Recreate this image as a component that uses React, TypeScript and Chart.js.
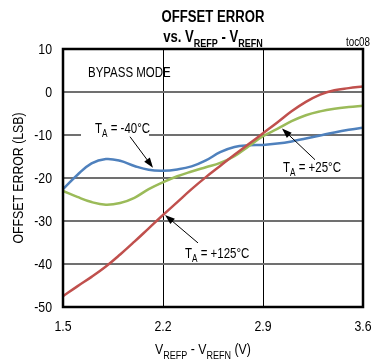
import React, { useEffect, useRef } from "react";
import { Chart, registerables } from "chart.js";

Chart.register(...registerables);

// Input span VREFP - VREFN (V)
const voltages = [1.5, 1.6, 1.7, 1.8, 1.9, 2.0, 2.1, 2.2, 2.3, 2.4, 2.5, 2.6, 2.7, 2.8, 2.9, 3.0, 3.1, 3.2, 3.3, 3.4, 3.5, 3.6];

// Offset error (LSB) at each temperature
const errMinus40 = [-22.6, -19.3, -16.6, -15.6, -16.0, -17.2, -18.1, -18.3, -18.0, -17.3, -15.9, -14.0, -12.8, -12.4, -12.3, -12.0, -11.5, -10.8, -10.1, -9.4, -8.8, -8.3];
const err25 = [-23.0, -24.4, -25.6, -26.2, -25.8, -24.6, -22.6, -21.0, -19.6, -18.5, -17.5, -16.5, -14.9, -12.6, -10.3, -8.6, -6.8, -5.4, -4.5, -3.9, -3.5, -3.2];
const err125 = [-47.5, -45.2, -43.0, -40.6, -37.8, -34.8, -31.7, -28.6, -25.6, -22.6, -19.8, -17.2, -14.6, -12.1, -9.6, -7.1, -4.5, -2.3, -0.6, 0.4, 0.9, 1.3];

const xTicks = [1.5, 2.2, 2.9, 3.6];
const yTicks = [-50, -40, -30, -20, -10, 0, 10];

const FONT = '"Liberation Sans", Arial, sans-serif';
// horizontal squeeze giving a condensed sans look
const SQUEEZE = 0.82;

type Piece = { text: string; sub?: boolean };

function fontOf(weight: string, size: number) {
  return `${weight} ${size}px ${FONT}`;
}

// Draws condensed text; align refers to the squeezed width.
function drawText(ctx: CanvasRenderingContext2D, text: string, x: number, y: number, font: string, align: "left" | "center" | "right", baseline: CanvasTextBaseline = "alphabetic") {
  ctx.font = font;
  const w = ctx.measureText(text).width * SQUEEZE;
  const sx = align === "left" ? x : align === "center" ? x - w / 2 : x - w;
  ctx.save();
  ctx.translate(sx, y);
  ctx.scale(SQUEEZE, 1);
  ctx.textAlign = "left";
  ctx.textBaseline = baseline;
  ctx.fillText(text, 0, 0);
  ctx.restore();
  return w;
}

// Draws a run of text where some pieces are subscripts.
function drawRich(ctx: CanvasRenderingContext2D, pieces: Piece[], x: number, y: number, size: number, subSize: number, weight: string, align: "left" | "center") {
  const widths = pieces.map((p) => {
    ctx.font = fontOf(weight, p.sub ? subSize : size);
    return ctx.measureText(p.text).width * SQUEEZE;
  });
  const total = widths.reduce((a, b) => a + b, 0);
  let cx = align === "center" ? x - total / 2 : x;
  pieces.forEach((p, i) => {
    drawText(ctx, p.text, cx, p.sub ? y + size * 0.3 : y, fontOf(weight, p.sub ? subSize : size), "left");
    cx += widths[i];
  });
  return total;
}

function drawArrow(ctx: CanvasRenderingContext2D, x1: number, y1: number, x2: number, y2: number) {
  const ang = Math.atan2(y2 - y1, x2 - x1);
  const len = 10;
  const half = 3.5;
  ctx.strokeStyle = "#000";
  ctx.lineWidth = 1;
  ctx.beginPath();
  ctx.moveTo(x1, y1);
  ctx.lineTo(x2 - Math.cos(ang) * len * 0.8, y2 - Math.sin(ang) * len * 0.8);
  ctx.stroke();
  ctx.fillStyle = "#000";
  ctx.beginPath();
  ctx.moveTo(x2, y2);
  ctx.lineTo(x2 - Math.cos(ang) * len - Math.sin(ang) * half, y2 - Math.sin(ang) * len + Math.cos(ang) * half);
  ctx.lineTo(x2 - Math.cos(ang) * len + Math.sin(ang) * half, y2 - Math.sin(ang) * len - Math.cos(ang) * half);
  ctx.closePath();
  ctx.fill();
}

// Curve callouts, in data coordinates
const callouts = [
  { label: "-40°C", tx: 1.724, ty: -9.45, ax: 1.969, ay: -10.4, hx: 2.13, hy: -17.6, clear: true },
  { label: "+25°C", tx: 3.04, ty: -18.5, ax: 3.264, ay: -15.75, hx: 3.033, hy: -8.5, clear: false },
  { label: "+125°C", tx: 2.354, ty: -38.6, ax: 2.445, ay: -35.1, hx: 2.214, hy: -28.6, clear: false },
];

const decorPlugin = {
  id: "decor",
  afterDraw(chart: any) {
    const ctx: CanvasRenderingContext2D = chart.ctx;
    const { left, right, top, bottom } = chart.chartArea;
    const xs = chart.scales.x;
    const ys = chart.scales.y;
    ctx.save();

    // callouts
    callouts.forEach((c) => {
      const tx = xs.getPixelForValue(c.tx);
      const ty = ys.getPixelForValue(c.ty);
      if (c.clear) {
        ctx.fillStyle = "#fff";
        ctx.fillRect(tx - 14, ty - 12, 68, 19);
      }
      ctx.fillStyle = "#000";
      drawRich(ctx, [{ text: "T" }, { text: "A", sub: true }, { text: " = " + c.label }], tx, ty, 14, 10, "normal", "left");
      drawArrow(ctx, xs.getPixelForValue(c.ax), ys.getPixelForValue(c.ay), xs.getPixelForValue(c.hx), ys.getPixelForValue(c.hy));
    });

    ctx.fillStyle = "#000";
    drawText(ctx, "BYPASS MODE", xs.getPixelForValue(1.675), ys.getPixelForValue(3.4), fontOf("normal", 14), "left");

    // plot frame
    ctx.strokeStyle = "#000";
    ctx.lineWidth = 2.5;
    ctx.strokeRect(left, top, right - left, bottom - top);

    // tick labels
    const tickFont = fontOf("normal", 15);
    xTicks.forEach((v) => drawText(ctx, v.toFixed(1), xs.getPixelForValue(v), bottom + 24, tickFont, "center"));
    yTicks.forEach((v) => drawText(ctx, String(v), left - 11, ys.getPixelForValue(v) + 5, tickFont, "right"));

    // titles
    const cx = (left + right) / 2;
    drawText(ctx, "OFFSET ERROR", cx, 22, fontOf("bold", 16), "center");
    drawRich(ctx, [{ text: "vs. V" }, { text: "REFP", sub: true }, { text: " - V" }, { text: "REFN", sub: true }], cx, 42, 16, 11, "bold", "center");

    drawText(ctx, "toc08", 370, 46, fontOf("normal", 12), "right");

    // axis titles
    drawRich(ctx, [{ text: "V" }, { text: "REFP", sub: true }, { text: " - V" }, { text: "REFN", sub: true }, { text: " (V)" }], 203, 354, 15, 11, "normal", "center");

    ctx.save();
    ctx.translate(23, (top + bottom) / 2);
    ctx.rotate(-Math.PI / 2);
    drawText(ctx, "OFFSET ERROR (LSB)", 0, 0, fontOf("normal", 15), "center");
    ctx.restore();

    ctx.restore();
  },
};

export default function App() {
  const ref = useRef<HTMLCanvasElement>(null);

  useEffect(() => {
    document.body.style.margin = "0";
    if (!ref.current) return;
    const chart = new Chart(ref.current, {
      type: "line",
      data: {
        labels: voltages,
        datasets: [
          { data: voltages.map((v, i) => ({ x: v, y: err125[i] })), borderColor: "#C0504D" },
          { data: voltages.map((v, i) => ({ x: v, y: err25[i] })), borderColor: "#9BBB59" },
          { data: voltages.map((v, i) => ({ x: v, y: errMinus40[i] })), borderColor: "#4F81BD" },
        ].map((d) => ({ ...d, borderWidth: 2.5, pointRadius: 0, tension: 0.4, fill: false })),
      },
      options: {
        animation: false,
        responsive: false,
        maintainAspectRatio: false,
        layout: { padding: { top: 49, right: 10, left: 0, bottom: 0 } },
        plugins: { legend: { display: false }, tooltip: { enabled: false }, title: { display: false } },
        scales: {
          x: {
            type: "linear",
            min: 1.5,
            max: 3.6,
            afterBuildTicks: (s: any) => {
              s.ticks = xTicks.map((v) => ({ value: v }));
            },
            afterFit: (s: any) => {
              s.height = 53;
            },
            grid: { color: "#000", lineWidth: 1, drawTicks: false },
            border: { display: false },
            ticks: { display: false },
          },
          y: {
            type: "linear",
            min: -50,
            max: 10,
            afterBuildTicks: (s: any) => {
              s.ticks = yTicks.map((v) => ({ value: v }));
            },
            afterFit: (s: any) => {
              s.width = 63;
            },
            grid: { color: "#707070", lineWidth: 2, drawTicks: false },
            border: { display: false },
            ticks: { display: false },
          },
        },
      },
      plugins: [decorPlugin],
    });
    return () => chart.destroy();
  }, []);

  return (
    <div style={{ width: 373, height: 360, background: "#fff" }}>
      <canvas ref={ref} width={373} height={360} style={{ display: "block" }} />
    </div>
  );
}
